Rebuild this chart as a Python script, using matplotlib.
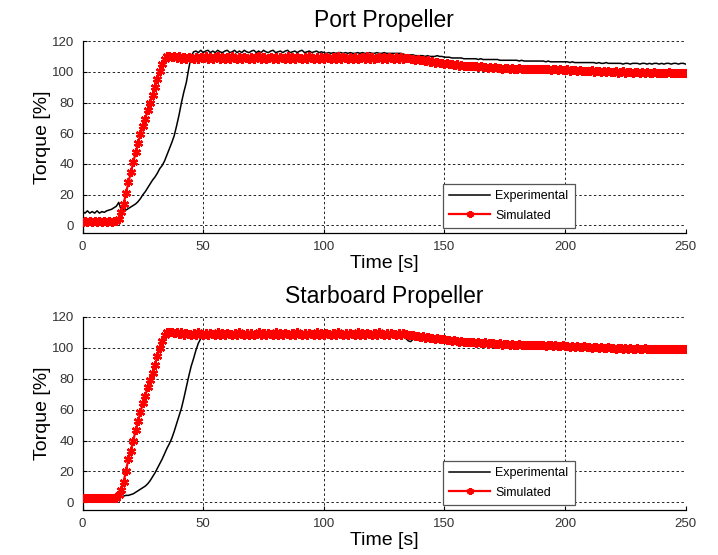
# -*- coding: utf-8 -*-

""" Port / starboard propeller torque: experimental vs simulated """

import matplotlib.pyplot as plt
import numpy as np

plt.rcParams['font.family'] = ['Liberation Sans', 'DejaVu Sans']

# => DATA (one sample per second, 0..250 s)
time_s = np.arange(0, 251)

port_simulated = [
    2.5, 3.0, 2.5, 3.0, 2.5, 3.0, 2.5, 3.0, 2.5, 3.0,
    2.5, 3.0, 2.5, 3.0, 3.0, 4.5, 8.5, 14.0, 21.0, 28.0,
    34.5, 41.0, 47.5, 53.5, 59.5, 64.5, 69.5, 75.0, 80.0, 85.0,
    90.0, 95.5, 100.5, 105.0, 108.5, 110.0, 110.5, 109.5, 110.0, 109.0,
    110.0, 108.5, 109.5, 108.5, 109.5, 109.0, 108.5, 109.5, 108.5, 109.5,
    109.0, 110.0, 108.5, 109.5, 108.5, 109.5, 110.0, 108.5, 109.5, 108.5,
    109.5, 108.5, 110.0, 109.0, 108.5, 109.5, 108.5, 109.5, 109.0, 108.5,
    109.5, 108.5, 109.5, 110.0, 108.5, 109.5, 108.5, 109.0, 109.5, 108.5,
    109.5, 108.5, 109.5, 109.0, 108.5, 110.0, 108.5, 109.5, 108.5, 109.5,
    109.0, 108.5, 109.5, 108.5, 110.0, 109.0, 108.5, 109.5, 108.5, 109.5,
    108.5, 109.5, 109.0, 108.5, 109.5, 108.5, 110.0, 108.5, 109.5, 109.0,
    108.5, 109.5, 108.5, 109.5, 108.5, 109.0, 109.5, 108.5, 110.0, 108.5,
    109.5, 108.5, 109.0, 109.5, 108.5, 109.5, 108.5, 109.5, 109.0, 108.5,
    109.5, 108.5, 109.5, 108.5, 109.0, 109.0, 108.5, 108.5, 108.0, 108.5,
    107.5, 108.0, 107.0, 107.5, 106.5, 107.0, 106.0, 106.5, 105.5, 106.0,
    105.0, 105.5, 105.0, 105.0, 104.5, 105.0, 104.0, 104.5, 104.0, 104.0,
    103.5, 104.0, 103.5, 103.5, 103.0, 103.5, 103.0, 103.0, 102.5, 103.0,
    102.5, 103.0, 102.5, 102.5, 102.0, 102.5, 102.5, 102.0, 102.5, 102.0,
    102.0, 102.5, 101.5, 102.0, 102.0, 101.5, 102.0, 101.5, 102.0, 101.5,
    101.5, 102.0, 101.5, 101.5, 101.0, 101.5, 101.5, 101.0, 101.5, 101.0,
    101.0, 101.5, 100.5, 101.0, 101.0, 100.5, 101.0, 100.5, 100.5, 100.5,
    100.5, 101.0, 100.0, 100.5, 100.5, 100.0, 100.5, 100.0, 100.5, 100.0,
    100.0, 100.5, 99.5, 100.0, 100.5, 99.5, 100.0, 100.0, 99.5, 100.0,
    100.0, 99.5, 100.0, 99.5, 100.0, 99.5, 99.5, 100.0, 99.5, 99.5,
    99.5, 99.0, 99.5, 100.0, 99.0, 99.5, 99.5, 99.0, 99.5, 99.0,
    99.5,
]

port_experimental = [
    9.0, 8.0, 9.5, 8.0, 9.0, 8.0, 9.5, 8.0, 9.0, 8.5,
    9.5, 10.0, 10.5, 11.5, 12.5, 15.0, 10.0, 10.5, 10.0, 11.0,
    12.0, 13.0, 14.0, 15.5, 17.5, 20.0, 22.0, 24.5, 27.0, 29.5,
    31.5, 34.0, 37.0, 39.0, 42.0, 46.0, 50.0, 54.0, 58.5, 65.0,
    72.0, 80.0, 87.0, 93.0, 102.0, 110.0, 113.0, 113.5, 112.5, 114.0,
    112.5, 113.5, 114.0, 112.5, 113.5, 112.5, 114.0, 113.0, 112.5, 113.5,
    114.0, 112.5, 113.0, 114.0, 112.5, 113.5, 112.5, 114.0, 113.0, 112.5,
    113.5, 114.0, 112.5, 113.5, 112.5, 114.0, 113.0, 112.5, 113.5, 114.0,
    112.5, 113.0, 113.5, 112.5, 113.5, 114.0, 112.5, 113.0, 113.5, 112.5,
    113.5, 114.0, 112.5, 113.0, 113.5, 112.5, 113.0, 113.5, 112.5, 113.0,
    112.5, 112.0, 112.5, 112.0, 112.5, 112.0, 112.5, 112.5, 112.0, 112.5,
    112.0, 112.5, 112.0, 112.0, 112.5, 112.0, 112.5, 112.0, 112.0, 112.5,
    112.0, 112.0, 112.5, 112.0, 112.0, 112.5, 112.0, 112.0, 112.0, 112.0,
    112.0, 112.0, 112.0, 111.5, 111.0, 110.5, 111.0, 111.0, 110.5, 110.5,
    110.5, 110.5, 110.0, 110.5, 110.0, 110.0, 110.0, 110.5, 110.0, 110.0,
    109.5, 109.5, 109.5, 109.0, 109.0, 109.0, 109.0, 109.0, 108.5, 108.5,
    108.5, 108.5, 108.5, 108.5, 108.0, 108.5, 108.0, 108.0, 108.0, 108.0,
    108.0, 108.0, 108.0, 107.5, 107.5, 107.5, 107.5, 107.5, 107.5, 107.5,
    107.5, 107.0, 107.5, 107.0, 107.0, 107.0, 107.0, 107.0, 107.0, 107.0,
    107.0, 107.0, 106.5, 107.0, 106.5, 106.5, 106.5, 106.5, 106.5, 106.5,
    106.5, 106.5, 106.0, 106.5, 106.0, 106.0, 106.0, 106.0, 106.0, 106.0,
    106.0, 106.0, 106.0, 105.5, 106.0, 105.5, 105.5, 106.0, 105.5, 105.5,
    105.5, 105.5, 105.5, 105.5, 105.0, 105.5, 105.5, 105.0, 105.5, 105.5,
    105.5, 105.0, 105.5, 105.5, 105.0, 105.5, 105.0, 105.5, 105.5, 105.0,
    105.5, 105.0, 105.5, 105.5, 105.0, 105.5, 105.5, 105.0, 105.5, 105.5,
    105.0,
]

stbd_simulated = [
    3.0, 2.5, 3.0, 2.5, 3.0, 2.5, 3.0, 2.5, 3.0, 2.5,
    3.0, 2.5, 3.0, 2.5, 3.0, 4.5, 8.0, 13.0, 20.5, 28.0,
    33.5, 40.0, 46.5, 52.5, 58.5, 64.0, 69.0, 74.5, 79.0, 84.0,
    89.0, 94.5, 100.0, 104.5, 108.0, 110.0, 110.5, 110.0, 109.5, 110.5,
    109.0, 110.0, 108.5, 109.5, 109.0, 108.5, 109.5, 108.5, 110.0, 109.0,
    108.5, 109.5, 108.5, 109.5, 109.0, 108.5, 110.0, 108.5, 109.5, 108.5,
    109.5, 109.0, 108.5, 109.5, 108.5, 110.0, 109.0, 108.5, 109.5, 108.5,
    109.5, 108.5, 109.0, 110.0, 108.5, 109.5, 108.5, 109.5, 109.0, 108.5,
    110.0, 108.5, 109.5, 108.5, 109.5, 109.0, 108.5, 109.5, 108.5, 110.0,
    109.0, 108.5, 109.5, 108.5, 109.5, 109.0, 108.5, 110.0, 108.5, 109.5,
    108.5, 109.5, 109.0, 108.5, 109.5, 108.5, 110.0, 109.0, 108.5, 109.5,
    108.5, 109.5, 109.0, 108.5, 110.0, 108.5, 109.5, 108.5, 109.5, 109.0,
    108.5, 109.5, 108.5, 110.0, 109.0, 108.5, 109.5, 108.5, 109.5, 109.0,
    108.5, 109.5, 108.5, 109.5, 109.0, 108.5, 108.0, 108.5, 107.5, 107.5,
    107.0, 107.5, 106.5, 107.0, 106.5, 106.5, 106.0, 106.5, 105.5, 105.5,
    105.5, 105.0, 105.0, 104.5, 105.0, 104.5, 104.0, 104.5, 104.0, 103.5,
    104.0, 103.5, 103.5, 103.0, 103.5, 103.0, 103.0, 103.5, 102.5, 103.0,
    103.0, 102.5, 102.5, 103.0, 102.0, 102.5, 102.5, 102.0, 102.5, 102.0,
    102.0, 102.5, 102.0, 101.5, 102.0, 102.0, 101.5, 101.5, 102.0, 101.5,
    101.5, 101.5, 101.0, 101.5, 101.5, 101.0, 101.5, 101.0, 101.0, 101.5,
    101.0, 101.0, 100.5, 101.0, 100.5, 101.0, 100.5, 100.5, 101.0, 100.5,
    100.5, 100.0, 100.5, 100.5, 100.0, 100.5, 100.0, 100.0, 100.5, 100.0,
    100.0, 99.5, 100.0, 100.0, 99.5, 100.0, 99.5, 100.0, 99.5, 99.5,
    100.0, 99.5, 99.5, 100.0, 99.0, 99.5, 99.5, 99.0, 99.5, 99.5,
    99.0, 99.5, 99.5, 99.0, 99.5, 99.0, 99.5, 99.0, 99.0, 99.5,
    99.0,
]

stbd_experimental = [
    2.5, 2.5, 3.0, 2.5, 2.5, 3.0, 2.5, 2.5, 3.0, 2.5,
    2.5, 3.0, 2.5, 2.5, 3.0, 3.0, 3.5, 4.0, 4.5, 4.5,
    5.0, 5.5, 6.5, 7.5, 8.5, 9.5, 10.5, 12.0, 14.0, 16.5,
    19.0, 22.0, 25.0, 28.0, 31.5, 35.0, 38.0, 41.5, 46.0, 51.0,
    56.0, 61.0, 67.5, 74.5, 81.5, 88.0, 93.0, 98.5, 103.0, 106.0,
    108.5, 109.0, 109.0, 109.5, 109.0, 109.0, 109.5, 109.0, 109.0, 109.5,
    109.0, 109.0, 109.5, 109.0, 109.0, 109.5, 109.0, 109.0, 109.5, 109.0,
    109.0, 109.5, 109.0, 109.0, 109.5, 109.0, 109.0, 109.5, 109.0, 109.0,
    109.5, 109.0, 109.0, 109.5, 109.0, 109.0, 109.5, 109.0, 109.0, 109.5,
    109.0, 109.0, 109.5, 109.0, 109.0, 109.5, 109.0, 109.0, 109.5, 109.0,
    109.0, 109.5, 109.0, 109.0, 109.5, 109.0, 109.0, 109.5, 109.0, 109.0,
    109.5, 109.0, 109.0, 109.5, 109.0, 109.0, 109.5, 109.0, 109.0, 109.5,
    109.0, 109.0, 109.5, 109.0, 109.0, 109.5, 109.0, 109.0, 109.5, 109.0,
    109.0, 109.0, 109.0, 108.0, 106.0, 104.5, 104.0, 105.5, 107.0, 107.5,
    107.0, 107.0, 106.5, 106.5, 106.5, 106.0, 106.0, 106.0, 105.5, 105.5,
    105.0, 105.0, 105.0, 104.5, 104.5, 104.5, 104.0, 104.0, 104.0, 103.5,
    103.5, 103.5, 103.5, 103.0, 103.0, 103.0, 103.0, 103.0, 102.5, 102.5,
    102.5, 102.5, 102.5, 102.5, 102.0, 102.0, 102.0, 102.0, 102.0, 102.0,
    102.0, 102.0, 101.5, 101.5, 101.5, 101.5, 101.5, 101.5, 101.5, 101.5,
    101.5, 101.0, 101.0, 101.0, 101.0, 101.0, 101.0, 101.0, 101.0, 101.0,
    101.0, 100.5, 100.5, 100.5, 100.5, 100.5, 100.5, 100.5, 100.5, 100.5,
    100.0, 100.0, 100.0, 100.0, 100.0, 100.0, 100.0, 100.0, 100.0, 100.0,
    100.0, 100.0, 99.5, 99.5, 99.5, 99.5, 99.5, 99.5, 99.5, 99.5,
    99.5, 99.5, 99.5, 99.5, 99.5, 99.5, 99.5, 99.5, 99.5, 99.5,
    99.5, 99.5, 99.0, 99.0, 99.0, 99.0, 99.0, 99.0, 99.0, 99.0,
    99.0,
]

titles = ['Port Propeller', 'Starboard Propeller']
x_ticks = [0, 50, 100, 150, 200, 250]
y_ticks = [0, 20, 40, 60, 80, 100, 120]


def draw_panel(ax, experimental, simulated, title):
    ax.plot(time_s, experimental, color='black', lw=1.1, label='Experimental', zorder=3)
    ax.plot(time_s, simulated, color='red', lw=1.6, marker=(6, 2, 0),
            ms=6.5, mew=1.7, label='Simulated', zorder=4)

    ax.set_xlim(0, 250)
    ax.set_ylim(-5, 120)
    ax.set_xticks(x_ticks)
    ax.set_yticks(y_ticks)

    # -> MATLAB LOOK: DOTTED GRID, NO BOX ON TOP / RIGHT
    ax.grid(True, color='#222222', lw=0.7, linestyle=(0, (2.5, 2.5)))
    for side in ['top', 'right']:
        ax.spines[side].set_visible(False)
    for side in ['left', 'bottom']:
        ax.spines[side].set_linewidth(0.9)
    ax.tick_params(direction='in', length=3, width=0.8, labelsize=9.5,
                   labelcolor='#333333', pad=6)

    ax.set_title(title, fontsize=16.5, pad=10)
    ax.set_xlabel('Time [s]', fontsize=14, labelpad=1)
    ax.set_ylabel('Torque [%]', fontsize=14, labelpad=1)

    leg = ax.legend(loc='lower left', bbox_to_anchor=(0.597, 0.026),
                    borderaxespad=0, fontsize=9, handlelength=3.3,
                    fancybox=False, framealpha=1, edgecolor='#555555',
                    borderpad=0.5, labelspacing=0.6, handletextpad=0.4)
    leg.get_frame().set_linewidth(0.9)
    leg.legend_handles[1].set_markersize(5)


fig = plt.figure(figsize=(7.18, 5.55), dpi=100)
ax_top = fig.add_axes([0.115, 0.580, 0.840, 0.346])
ax_bot = fig.add_axes([0.115, 0.081, 0.840, 0.348])

draw_panel(ax_top, port_experimental, port_simulated, titles[0])
draw_panel(ax_bot, stbd_experimental, stbd_simulated, titles[1])

fig.savefig('out.png', dpi=100)
